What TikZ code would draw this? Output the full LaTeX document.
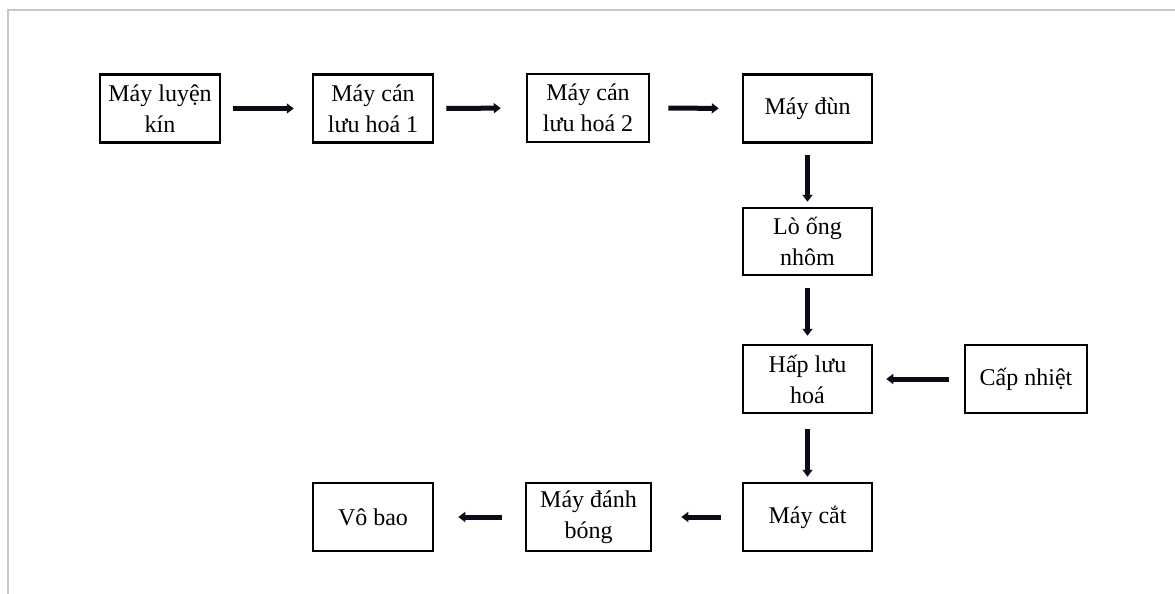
\documentclass[tikz,border=0pt]{standalone}
\usepackage{fontspec}
\setmainfont{Liberation Serif}
\usepackage{xcolor}
\usetikzlibrary{arrows.meta}

\definecolor{arrowink}{HTML}{0B0C1A}

\begin{document}
\begin{tikzpicture}[x=1pt, y=-1pt,
  box/.style={rectangle, minimum width=120pt, minimum height=68pt, inner sep=0pt, align=center, draw=black, line width=2.5pt, font=\fontsize{24}{31}\selectfont},
  flow/.style={draw=arrowink, line width=5pt, -{Triangle[width=10pt,length=7pt]}}]
\useasboundingbox (0,0) rectangle (1175,594);
\draw[black!22, line width=1.2pt] (8,594) -- (8,10) -- (1175,10);

\node (kin) [box] at (160,108.5) {Máy luyện\\kín};
\node (can1) [box] at (373,108.5) {Máy cán\\lưu hoá 1};
\node (can2) [box, minimum width=122pt] at (588,108) {Máy cán\\lưu hoá 2};
\node (dun) [box, minimum width=129pt] at (807.5,108.5) {Máy đùn};
\node (lo) [box, minimum width=129pt, minimum height=67pt] at (807.5,241.5) {Lò ống\\nhôm};
\node (hap) [box, minimum width=129pt] at (807.5,379) {Hấp lưu\\hoá};
\node (nhiet) [box, minimum width=122pt] at (1026,379) {Cấp nhiệt};
\node (cat) [box, minimum width=129pt] at (807.5,517) {Máy cắt};
\node (bong) [box, minimum width=125pt] at (588.5,517) {Máy đánh\\bóng};
\node (vobao) [box] at (373,517) {Vô bao};

\draw[flow, shorten <=12pt, shorten >=18pt] (kin) -- (can1);
\draw[flow, shorten <=12pt, shorten >=25pt] (can1) -- (can2);
\draw[flow, shorten <=18pt, shorten >=23pt] (can2) -- (dun);
\draw[flow, shorten <=11pt, shorten >=5pt] (dun) -- (lo);
\draw[flow, shorten <=12pt, shorten >=8pt] (lo) -- (hap);
\draw[flow, shorten <=15pt, shorten >=13pt] (nhiet) -- (hap);
\draw[flow, shorten <=15pt, shorten >=5pt] (hap) -- (cat);
\draw[flow, shorten <=21pt, shorten >=29pt] (cat) -- (bong);
\draw[flow, shorten <=23pt, shorten >=24pt] (bong) -- (vobao);
\end{tikzpicture}
\end{document}
